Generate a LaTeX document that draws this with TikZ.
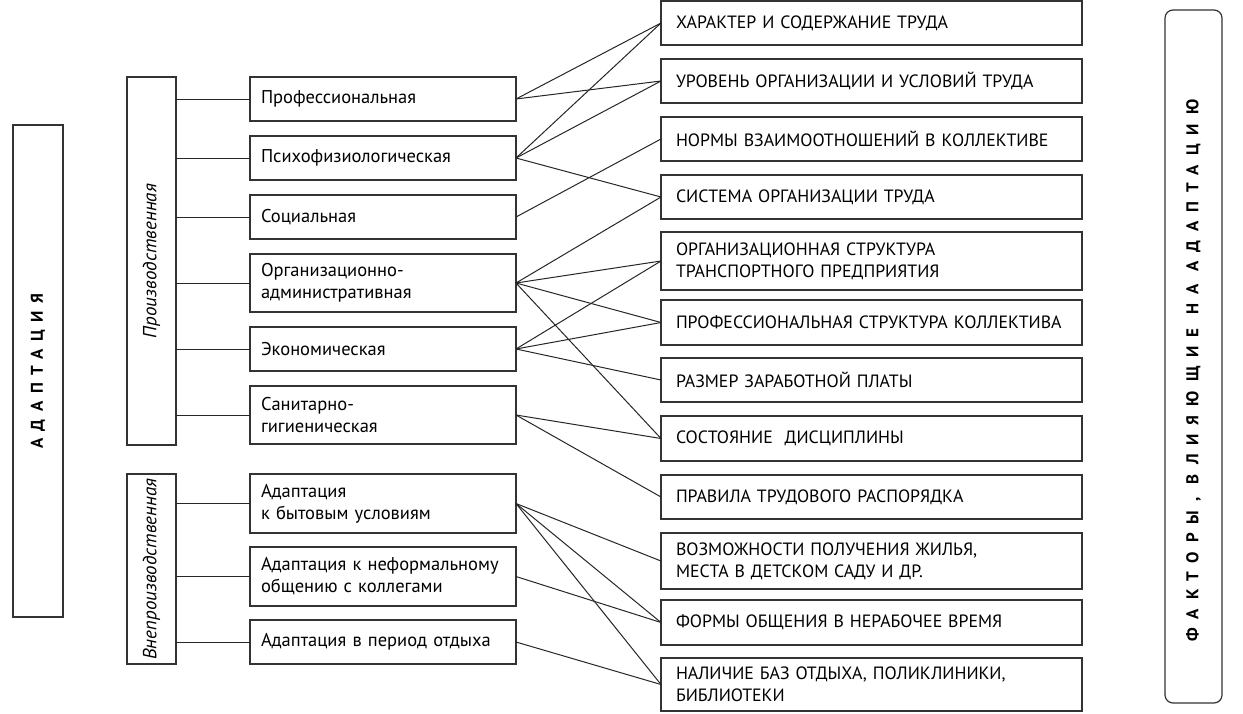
\documentclass[tikz,border=0pt]{standalone}
\usepackage{fontspec}
\setmainfont{PT Sans}
\usepackage{tikz}
\usetikzlibrary{positioning}

\begin{document}
\begin{tikzpicture}[
    x=1pt, y=-1pt,
    frame/.style={draw=black!80, line width=1.2pt, outer sep=0pt},
    kind/.style={rectangle, frame, minimum width=266pt, minimum height=44pt, text width=244pt, inner xsep=11pt, align=left, font=\fontsize{18.5}{22}\selectfont},
    factor/.style={rectangle, frame, minimum width=421pt, minimum height=44pt, text width=391pt, inner xsep=15pt, align=left, font=\fontsize{17.8}{22}\selectfont},
    group/.style={rectangle, frame, rotate=90, minimum height=49pt, font=\itshape\fontsize{19}{22}\selectfont},
    title/.style={rectangle, frame, rotate=90, font=\bfseries\fontsize{17}{20}\selectfont\addfontfeature{LetterSpace=45}},
    link/.style={draw=black!85, line width=1pt},
]
\useasboundingbox (0,0) rectangle (1243,713);

% Adaptation
\node[title, minimum width=492pt, minimum height=50pt] (adapt) at (38,371) {АДАПТАЦИЯ};

% Groups
\node[group, minimum width=368pt] (prod) at (151.5,261) {Производственная};
\node[group, minimum width=190pt] (nonprod) at (151.5,569) {Внепроизводственная};

% Kinds of adaptation
\node[kind, anchor=north west] (prof) at (250,77) {Профессиональная};
\node[kind, below=15pt of prof] (psych) {Психофизиологическая};
\node[kind, below=15pt of psych] (soc) {Социальная};
\node[kind, below=15pt of soc, minimum height=58pt] (org) {Организационно-\\административная};
\node[kind, below=15pt of org] (econ) {Экономическая};
\node[kind, below=15pt of econ, minimum height=58pt] (san) {Санитарно-\\гигиеническая};
\node[kind, below=30pt of san, minimum height=59pt] (home) {Адаптация\\к бытовым условиям};
\node[kind, below=14pt of home, minimum height=59pt] (infml) {Адаптация к неформальному\\общению с коллегами};
\node[kind, below=14pt of infml] (rest) {Адаптация в период отдыха};

% Group links
\foreach \k in {prof, psych, soc, org, econ, san}
    \draw[link] (\k.west -| prod.south) -- (\k.west);
\foreach \k in {home, infml, rest}
    \draw[link] (\k.west -| nonprod.south) -- (\k.west);

% Factors
\node[factor, anchor=north west] (charact) at (661,1) {ХАРАКТЕР И СОДЕРЖАНИЕ ТРУДА};
\node[factor, below=14pt of charact] (level) {УРОВЕНЬ ОРГАНИЗАЦИИ И УСЛОВИЙ ТРУДА};
\node[factor, below=14pt of level] (norms) {НОРМЫ ВЗАИМООТНОШЕНИЙ В КОЛЛЕКТИВЕ};
\node[factor, below=14pt of norms] (system) {СИСТЕМА ОРГАНИЗАЦИИ ТРУДА};
\node[factor, below=13pt of system, minimum height=58pt] (orgstr) {ОРГАНИЗАЦИОННАЯ СТРУКТУРА\\ТРАНСПОРТНОГО ПРЕДПРИЯТИЯ};
\node[factor, below=10pt of orgstr, minimum height=45pt] (profstr) {ПРОФЕССИОНАЛЬНАЯ СТРУКТУРА КОЛЛЕКТИВА};
\node[factor, below=13pt of profstr] (salary) {РАЗМЕР ЗАРАБОТНОЙ ПЛАТЫ};
\node[factor, below=14pt of salary, minimum height=45pt] (discip) {СОСТОЯНИЕ~ ДИСЦИПЛИНЫ};
\node[factor, below=14pt of discip] (rules) {ПРАВИЛА ТРУДОВОГО РАСПОРЯДКА};
\node[factor, below=14pt of rules, minimum height=56pt] (housing) {ВОЗМОЖНОСТИ ПОЛУЧЕНИЯ ЖИЛЬЯ,\\МЕСТА В ДЕТСКОМ САДУ И ДР.};
\node[factor, below=11pt of housing, minimum height=45pt] (forms) {ФОРМЫ ОБЩЕНИЯ В НЕРАБОЧЕЕ ВРЕМЯ};
\node[factor, below=13pt of forms, minimum height=53pt] (bases) {НАЛИЧИЕ БАЗ ОТДЫХА, ПОЛИКЛИНИКИ,\\БИБЛИОТЕКИ};

% Factors title
\node[title, rounded corners=8pt, minimum width=693pt, minimum height=57pt, font=\bfseries\fontsize{17}{20}\selectfont\addfontfeature{LetterSpace=53}] (factors) at (1193.5,356.5) {ФАКТОРЫ, ВЛИЯЮЩИЕ НА АДАПТАЦИЮ\hspace*{28pt}};

% Links
\draw[link] (prof.east) -- (charact.west);
\draw[link] (prof.east) -- (level.west);
\draw[link] (psych.east) -- (charact.west);
\draw[link] (psych.east) -- (level.west);
\draw[link] (psych.east) -- (system.west);
\draw[link] (soc.east) -- (norms.west);
\draw[link] (org.east) -- (system.west);
\draw[link] (org.east) -- (orgstr.west);
\draw[link] (org.east) -- (profstr.west);
\draw[link] (org.east) -- (discip.west);
\draw[link] (econ.east) -- (orgstr.west);
\draw[link] (econ.east) -- (profstr.west);
\draw[link] (econ.east) -- (salary.west);
\draw[link] (san.east) -- (discip.west);
\draw[link] (san.east) -- (rules.west);
\draw[link] (home.east) -- (housing.west);
\draw[link] (home.east) -- (forms.west);
\draw[link] (home.east) -- (bases.west);
\draw[link] (infml.east) -- (forms.west);
\draw[link] (rest.east) -- (bases.west);

\end{tikzpicture}
\end{document}
